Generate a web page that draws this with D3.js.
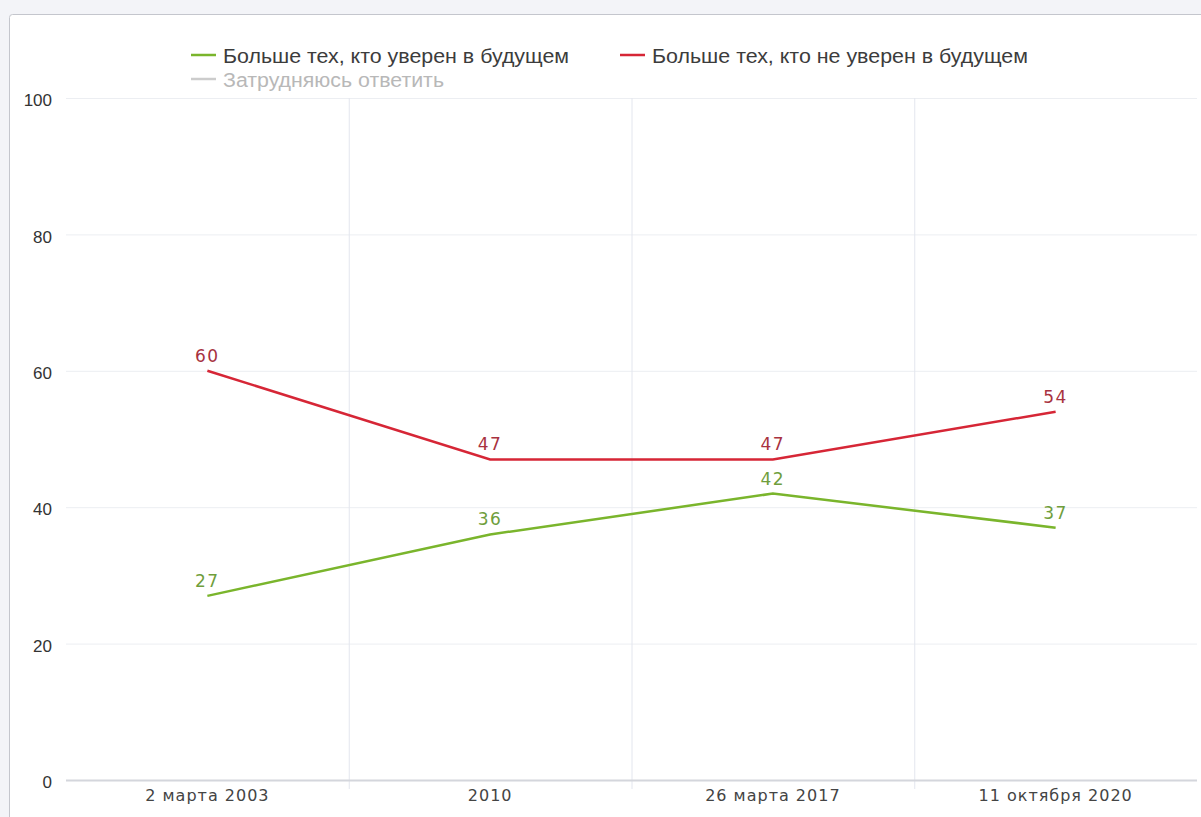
<!DOCTYPE html>
<html lang="ru">
<head>
  <meta charset="UTF-8">
  <title>Уверенность в будущем</title>
  <script src="https://d3js.org/d3.v7.min.js"></script>
  <style>
    body { margin: 0; background: #f3f4f8; }
    svg { display: block; }
  </style>
</head>
<body>
  <div id="chart"></div>

  <script>
    // Data
    const categories = ["2 марта 2003", "2010", "26 марта 2017", "11 октября 2020"];
    const confident = [27, 36, 42, 37];
    const notConfident = [60, 47, 47, 54];
    const yTicks = [0, 20, 40, 60, 80, 100];
    const seriesNames = [
      "Больше тех, кто уверен в будущем",
      "Больше тех, кто не уверен в будущем",
      "Затрудняюсь ответить"
    ];

    const W = 1201, H = 817;
    const plot = { left: 66, right: 1197, top: 98, bottom: 780 };

    const svg = d3.select("#chart").append("svg")
      .attr("width", W)
      .attr("height", H);

    // white panel
    svg.append("rect")
      .attr("x", 9.5).attr("y", 14.5)
      .attr("width", W).attr("height", H)
      .attr("rx", 3)
      .attr("fill", "#fff")
      .attr("stroke", "#c4c6cd");

    const x = d3.scaleBand()
      .domain(categories)
      .range([plot.left, plot.right]);

    const y = d3.scaleLinear()
      .domain([0, 100])
      .range([plot.bottom, plot.top]);

    // horizontal grid
    svg.append("g")
      .selectAll("line")
      .data(yTicks.filter(d => d > 0))
      .enter().append("line")
        .attr("x1", plot.left).attr("x2", plot.right)
        .attr("y1", d => y(d) + 0.5).attr("y2", d => y(d) + 0.5)
        .attr("stroke", "#eceef2");

    // vertical grid between categories
    svg.append("g")
      .selectAll("line")
      .data(categories.slice(1))
      .enter().append("line")
        .attr("x1", d => x(d) + 0.5).attr("x2", d => x(d) + 0.5)
        .attr("y1", plot.top).attr("y2", plot.bottom + 9)
        .attr("stroke", "#e3e6ee");

    // baseline
    svg.append("line")
      .attr("x1", plot.left).attr("x2", plot.right)
      .attr("y1", y(0) + 0.5).attr("y2", y(0) + 0.5)
      .attr("stroke", "#d4d6dc")
      .attr("stroke-width", 2);

    // y axis
    const yAxis = svg.append("g")
      .attr("transform", "translate(52,0)")
      .call(d3.axisLeft(y).tickValues(yTicks).tickSize(0).tickPadding(0));
    yAxis.select(".domain").remove();
    yAxis.selectAll("text")
      .attr("font-family", "Liberation Sans, Arial, sans-serif")
      .attr("font-size", 17)
      .attr("fill", "#333")
      .attr("dy", "0.45em");

    // x axis
    const xAxis = svg.append("g")
      .attr("transform", `translate(0,${plot.bottom})`)
      .call(d3.axisBottom(x).tickSize(0).tickPadding(10));
    xAxis.select(".domain").remove();
    xAxis.selectAll("text")
      .attr("font-family", "DejaVu Sans, Verdana, sans-serif")
      .attr("font-size", 16)
      .attr("letter-spacing", 1)
      .attr("fill", "#444");

    const cx = d => x(d) + x.bandwidth() / 2;

    const series = [
      { name: seriesNames[0], values: confident, color: "#7ab52c", label: "#6f9e3c" },
      { name: seriesNames[1], values: notConfident, color: "#d62636", label: "#a8323f" }
    ];

    const line = d3.line()
      .x((d, i) => cx(categories[i]))
      .y(d => y(d));

    series.forEach(s => {
      svg.append("path")
        .datum(s.values)
        .attr("d", line)
        .attr("fill", "none")
        .attr("stroke", s.color)
        .attr("stroke-width", 2.5);

      svg.append("g")
        .selectAll("text")
        .data(s.values)
        .enter().append("text")
          .attr("x", (d, i) => cx(categories[i]))
          .attr("y", d => y(d) - 9)
          .attr("text-anchor", "middle")
          .attr("font-family", "DejaVu Sans, Verdana, sans-serif")
          .attr("font-size", 17)
          .attr("letter-spacing", 1.5)
          .attr("fill", s.label)
          .text(d => d);
    });

    // legend
    const legend = [
      { name: seriesNames[0], color: "#7ab52c", text: "#3c3c3c", x: 191, y: 55, w: 346 },
      { name: seriesNames[1], color: "#d62636", text: "#3c3c3c", x: 620, y: 55, w: 376 },
      { name: seriesNames[2], color: "#cccccc", text: "#b8b8b8", x: 191, y: 79, w: 221 }
    ];
    const lg = svg.append("g").selectAll("g")
      .data(legend)
      .enter().append("g")
        .attr("transform", d => `translate(${d.x},${d.y})`);
    lg.append("line")
      .attr("x1", 0).attr("x2", 25)
      .attr("y1", 0).attr("y2", 0)
      .attr("stroke", d => d.color)
      .attr("stroke-width", 2.5);
    lg.append("text")
      .attr("x", 32)
      .attr("y", 8)
      .attr("font-family", "Liberation Sans, Arial, sans-serif")
      .attr("font-size", 20)
      .attr("textLength", d => d.w)
      .attr("lengthAdjust", "spacingAndGlyphs")
      .attr("fill", d => d.text)
      .text(d => d.name);
  </script>
</body>
</html>
